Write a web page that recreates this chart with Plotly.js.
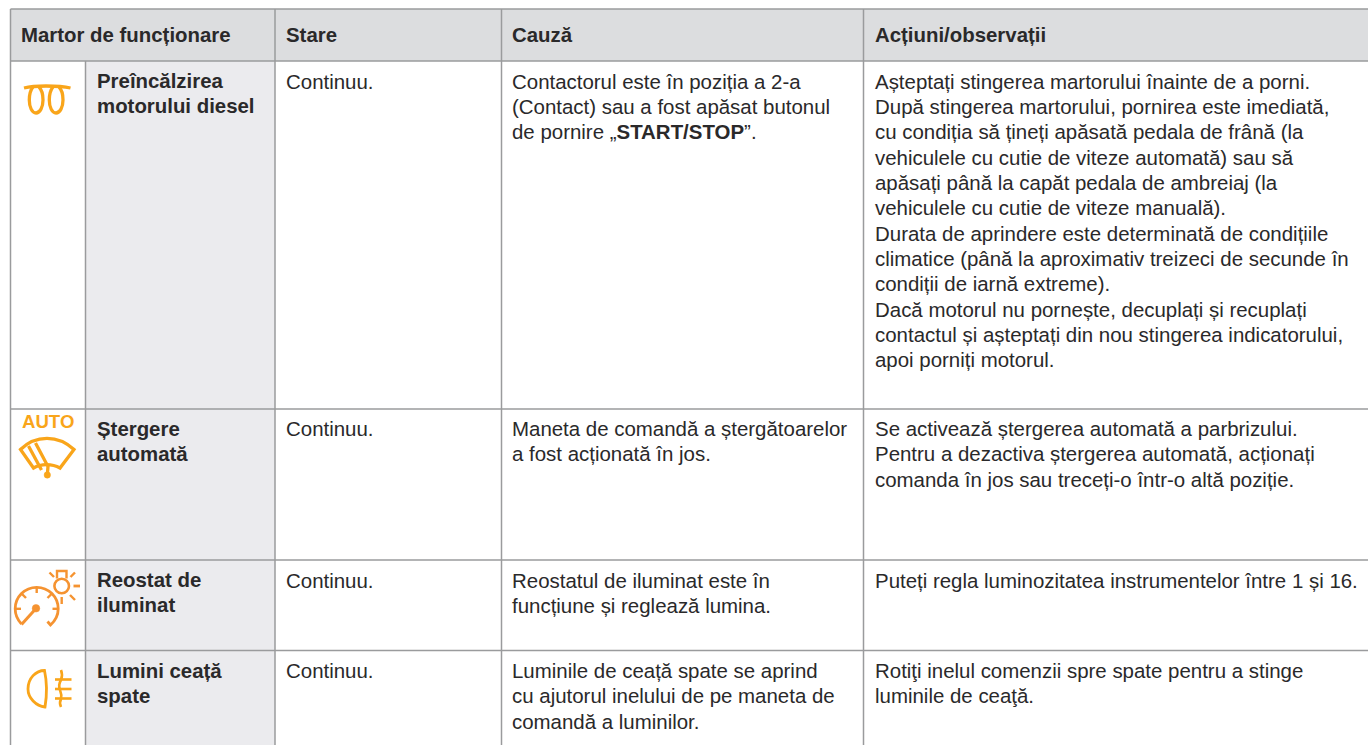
<!DOCTYPE html>
<html><head><meta charset="utf-8">
<script src="https://cdn.plot.ly/plotly-3.0.1.min.js"></script>
<style>html,body{margin:0;padding:0;background:#fff}#chart{width:1368px;height:745px}</style>
</head><body><div id="chart"></div>
<script>
const headers = ["Martor de funcționare", "Stare", "Cauză", "Acțiuni/observații"];
const names = [["Preîncălzirea","motorului diesel"],["Ștergere","automată"],["Reostat de","iluminat"],["Lumini ceață","spate"]];
const states = ["Continuu.","Continuu.","Continuu.","Continuu."];
const causes = [
 ["Contactorul este în poziția a 2-a","(Contact) sau a fost apăsat butonul","de pornire „<b>START/STOP</b>”."],
 ["Maneta de comandă a ștergătoarelor","a fost acționată în jos."],
 ["Reostatul de iluminat este în","funcțiune și reglează lumina."],
 ["Luminile de ceață spate se aprind","cu ajutorul inelului de pe maneta de","comandă a luminilor."]
];
const actions = [
 ["Așteptați stingerea martorului înainte de a porni.","După stingerea martorului, pornirea este imediată,","cu condiția să țineți apăsată pedala de frână (la","vehiculele cu cutie de viteze automată) sau să","apăsați până la capăt pedala de ambreiaj (la","vehiculele cu cutie de viteze manuală).","Durata de aprindere este determinată de condițiile","climatice (până la aproximativ treizeci de secunde în","condiții de iarnă extreme).","Dacă motorul nu pornește, decuplați și recuplați","contactul și așteptați din nou stingerea indicatorului,","apoi porniți motorul."],
 ["Se activează ștergerea automată a parbrizului.","Pentru a dezactiva ștergerea automată, acționați","comanda în jos sau treceți-o într-o altă poziție."],
 ["Puteți regla luminozitatea instrumentelor între 1 și 16."],
 ["Rotiţi inelul comenzii spre spate pentru a stinge","luminile de ceaţă."]
];
const autoLabel = "AUTO";

// Layout
const columnEdges = [10.5, 85.5, 275, 501.5, 863.5, 1368];
const rowEdges = [9, 61, 409, 560, 650.5, 745];
const headerX = [20, 285, 511, 874];
const rowFirstLineY = [81, 428.5, 580, 670.5];
const lineStep = 25.35;
const fontFamily = '"Liberation Sans", Arial, sans-serif';
const textColor = "#2a292a", lineColor = "#9a9b9d", headFill = "#dcdddf", nameFill = "#ebebee";
const amber = "#f9a51a", deepAmber = "#f59331";

const annotations = [], shapes = [];
function txt(x, y, s, size, bold, color) {
  annotations.push({x, y, xref:"x", yref:"y", text: bold ? "<b>"+s+"</b>" : s, showarrow:false,
    xanchor:"left", yanchor:"middle", align:"left", borderpad:0,
    font:{family:fontFamily, size, color:color||textColor}});
}
const bodySize = 20.45, boldSize = 20.4;
headers.forEach((h,i)=>txt(headerX[i], 35, h, boldSize, true));
rowFirstLineY.forEach((y0,r)=>{
  names[r].forEach((s,i)=>txt(96, y0+i*lineStep, s, boldSize, true));
  txt(285, y0, states[r], bodySize, false);
  causes[r].forEach((s,i)=>txt(511, y0+i*lineStep, s, bodySize, false));
  actions[r].forEach((s,i)=>txt(874, y0+i*lineStep, s, bodySize, false));
});
function rect(x0,y0,x1,y1,fill){shapes.push({type:"rect",xref:"x",yref:"y",x0,y0,x1,y1,fillcolor:fill,line:{width:0},layer:"below"});}
function seg(x0,y0,x1,y1,w,c){shapes.push({type:"line",xref:"x",yref:"y",x0,y0,x1,y1,line:{color:c||lineColor,width:w||1.5}});}
function stroke(path,w,c,fill){shapes.push({type:"path",xref:"x",yref:"y",path,line:{color:c,width:w},fillcolor:fill||"rgba(0,0,0,0)"});}
function oval(cx,cy,rx,ry,w,c,fill){shapes.push({type:"circle",xref:"x",yref:"y",x0:cx-rx,x1:cx+rx,y0:cy-ry,y1:cy+ry,line:{color:c,width:w},fillcolor:fill||"rgba(0,0,0,0)"});}

rect(columnEdges[0],rowEdges[0],1368,rowEdges[1],headFill);
rect(columnEdges[1],rowEdges[1],columnEdges[2],745,nameFill);
rowEdges.slice(0,5).forEach(y=>seg(columnEdges[0],y,1368,y));
seg(columnEdges[0],rowEdges[0],columnEdges[0],745);
seg(columnEdges[1],rowEdges[1],columnEdges[1],745);
columnEdges.slice(2,5).forEach(x=>seg(x,rowEdges[0],x,745));

// Icon: glow-plug coil
stroke("M24 88 C30 86.5 38 86 46 86 C54 86 64 86.5 70.5 88",3.3,amber);
stroke("M39 87 C42 90 43 95 43 100 C43 107 40 113 36 113 C32 113 29.3 107 29.3 100 C29.3 95 30.5 90 33 87",3.3,amber);
stroke("M59 87 C62 90 63 95 63 100 C63 107 60 113 56 113 C52 113 49.3 107 49.3 100 C49.3 95 50.5 90 53 87",3.3,amber);

// Icon: automatic wiper
txt(21,421.7,autoLabel,18.6,true,amber);
stroke("M20.5 449.5 C28 442 38 438.3 47 438.3 C56 438.3 66 442 74 449.5 L60 468 C52 463.5 41 463.5 33.5 468 Z",3.3,amber);
stroke("M28.5 446 L41.5 470",3.3,amber);
stroke("M35.5 443 L48 466.5 L47.3 475",3.3,amber);
oval(47.3,475,3.2,3.2,0.5,amber,amber);

// Icon: dashboard dimmer
const dim = deepAmber;
stroke("M21.5 624 C17.6 620 15.2 614.7 15.2 608.8 C15.2 596.9 24.8 587.3 36.7 587.3 C48.6 587.3 58.2 596.9 58.2 608.8 C58.2 615 55 621 50.5 625 L47.5 621.5",2.8,dim);
seg(21.5,624.5,36,608.5,3,dim);
oval(36,608.3,3.8,3.8,0.5,dim,dim);
seg(15.2,608.8,21,608.8,2.4,dim);
seg(22,594,26,598,2.4,dim);
seg(36.7,587.3,36.7,593,2.4,dim);
seg(51.5,594,47.5,598,2.4,dim);
seg(58.2,608.8,52.5,608.8,2.4,dim);
oval(61.7,586,7.3,7.3,2.6,dim);
stroke("M57 578.5 L57 571 L66.5 571 L66.5 578.5",2.4,dim);
seg(49.5,572.5,54,577,2.4,dim);
seg(75,572.5,70.5,577,2.4,dim);
seg(73.5,586,80,586,2.8,dim);
seg(70,595,75,600,2.4,dim);
seg(61.7,597,61.7,604,2.4,dim);

// Icon: rear fog light
stroke("M44.5 670.5 C36 670.5 28 678 28 689 C28 698 36 706 45 707 C47 695 47 682 44.5 670.5 Z",2.8,amber);
stroke("M61 670 Q63 675 61 680 Q58 685 60 690 Q62 695 61 699 Q59 703 61 707",2.6,amber);
seg(55,679.5,71.5,679.5,2.6,amber);
seg(55,689,71.5,689,2.6,amber);
seg(55,698.5,71.5,698.5,2.6,amber);

Plotly.newPlot("chart",[],{
  width:1368,height:745,margin:{l:0,r:0,t:0,b:0},paper_bgcolor:"#fff",plot_bgcolor:"#fff",showlegend:false,
  xaxis:{range:[0,1368],visible:false,fixedrange:true},
  yaxis:{range:[745,0],visible:false,fixedrange:true},
  shapes,annotations
},{displayModeBar:false,staticPlot:true});
</script></body></html>
